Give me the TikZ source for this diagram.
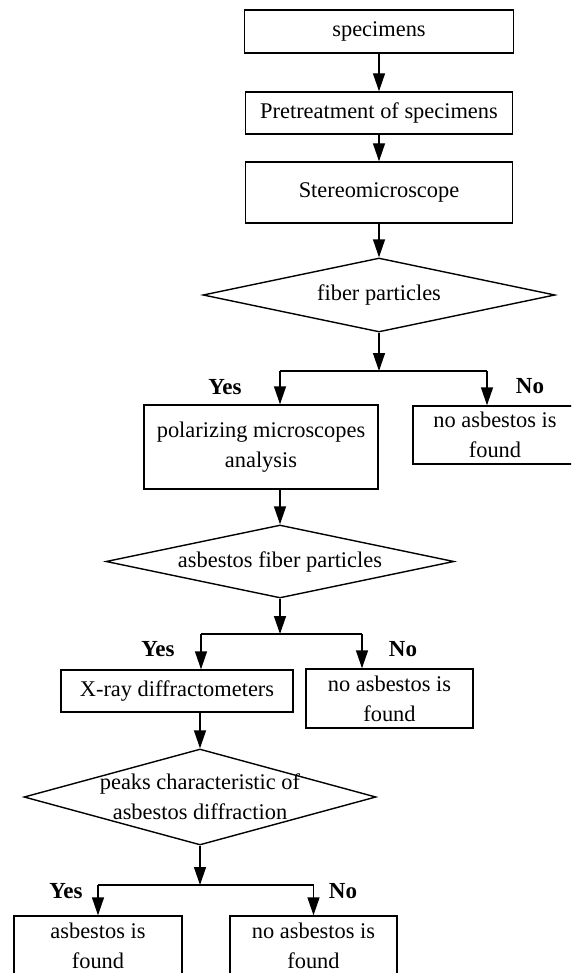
\documentclass[tikz,border=0pt]{standalone}
\usepackage{fontspec}
\setmainfont{Liberation Serif}
\usetikzlibrary{arrows.meta,shapes.geometric}
\begin{document}
\begin{tikzpicture}[x=1pt,y=-1pt,
  every node/.style={font=\fontsize{22.4}{30}\selectfont},
  box/.style={draw, line width=1.4pt, inner sep=0pt, align=center},
  dec/.style={draw, shape=diamond, line width=1.4pt, inner sep=0pt},
  txt/.style={align=center, inner sep=0pt},
  lbl/.style={font=\fontsize{23}{28}\selectfont\bfseries, inner sep=0pt},
  ln/.style={line width=1.4pt},
  arr/.style={line width=1.4pt, -{Triangle[length=18pt,width=12pt]}}]
\path[use as bounding box, clip] (0,0) rectangle (571,973);
\fill[white] (0,0) rectangle (571,973);
% column 1
\node[box, minimum width=269pt, minimum height=43pt] (s1) at (379,31.5) {specimens};
\node[box, minimum width=267pt, minimum height=42pt] (s2) at (379,113) {Pretreatment of specimens};
\node[box, minimum width=267pt, minimum height=61pt] (s3) at (379,192.5) {Stereomicroscope};
\node[dec, minimum width=352pt, minimum height=74pt] (d1) at (379,295) {};
\node[txt] (t1) at (d1.center) {fiber particles};
\coordinate (j1) at (379,371);
\coordinate (j1l) at (280,371);
\coordinate (j1r) at (487,371);
\node[box, minimum width=234pt, minimum height=84pt] (p) at (261,447) {polarizing microscopes\\analysis};
\node[box, minimum width=164pt, minimum height=58pt] (n1) at (495,435) {no asbestos is\\found};
\node[lbl] (y1) at (225,387) {Yes};
\node[lbl] (no1) at (530,386) {No};
% second decision
\node[dec, minimum width=348pt, minimum height=73pt] (d2) at (280,561.5) {};
\node[txt] (t2) at (d2.center) {asbestos fiber particles};
\coordinate (j2) at (280,634);
\coordinate (j2l) at (201,634);
\coordinate (j2r) at (362,634);
\node[box, minimum width=232pt, minimum height=42pt] (x) at (177,691) {X-ray diffractometers};
\node[box, minimum width=167pt, minimum height=59pt] (n2) at (389.5,698.5) {no asbestos is\\found};
\node[lbl] (y2) at (158,649) {Yes};
\node[lbl] (no2) at (403,649) {No};
% third decision
\node[dec, minimum width=352pt, minimum height=96pt] (d3) at (200,797) {};
\node[txt] (t3) at (200,796.5) {peaks characteristic of\\asbestos diffraction};
\coordinate (j3) at (200,885);
\coordinate (j3l) at (98,885);
\coordinate (j3r) at (313.5,885);
\node[box, minimum width=168pt, minimum height=59pt] (f1) at (98,945.5) {asbestos is\\found};
\node[box, minimum width=167pt, minimum height=59pt] (n3) at (313.5,945.5) {no asbestos is\\found};
\node[lbl] (y3) at (66,891) {Yes};
\node[lbl] (no3) at (343,891) {No};
% connectors
\draw[arr] (s1) -- (s2);
\draw[arr] (s2) -- (s3);
\draw[arr] (s3) -- (d1);
\draw[arr] (d1.south) -- (j1);
\draw[ln] (j1l) -- (j1r);
\draw[arr] (j1l) -- (j1l |- p.north);
\draw[arr] (j1r) -- (j1r |- n1.north);
\draw[arr] (p.south -| d2.north) -- (d2.north);
\draw[arr] (d2.south) -- (j2);
\draw[ln] (j2l) -- (j2r);
\draw[arr] (j2l) -- (j2l |- x.north);
\draw[arr] (j2r) -- (j2r |- n2.north);
\draw[arr] (x.south -| d3.north) -- (d3.north);
\draw[arr] (d3.south) -- (j3);
\draw[ln] (j3l) -- (j3r);
\draw[arr] (j3l) -- (f1.north);
\draw[arr] (j3r) -- (n3.north);
\end{tikzpicture}
\end{document}
